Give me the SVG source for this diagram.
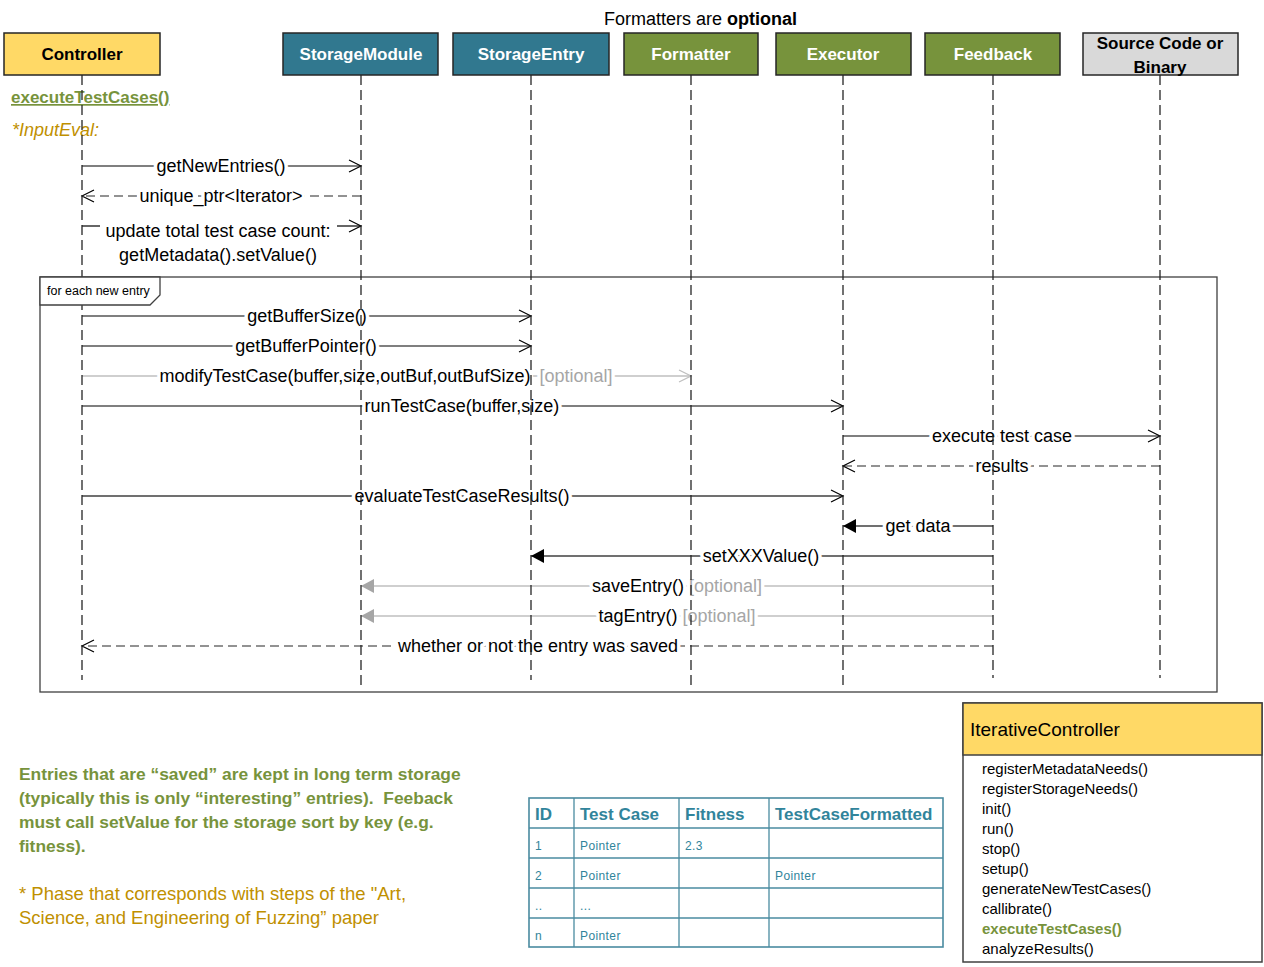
<svg xmlns="http://www.w3.org/2000/svg" width="1264" height="967" viewBox="0 0 1264 967">
<style>
text{font-family:"Liberation Sans",Arial,sans-serif;}
.hdr{stroke:#262626;stroke-width:1.5;}
.hdrtxt{font-size:17px;font-weight:bold;text-anchor:middle;}
.life{stroke:#262626;stroke-width:1.3;stroke-dasharray:10,5;fill:none;}
.msg{stroke:#000;stroke-width:1.2;fill:none;}
.msgd{stroke:#262626;stroke-width:1.2;fill:none;stroke-dasharray:9,5;}
.msgg{stroke:#BFBFBF;stroke-width:1.5;fill:none;}
.msgk{stroke:#404040;stroke-width:1.6;fill:none;}
.lbl{font-size:18px;text-anchor:middle;fill:#000;stroke:#fff;stroke-width:7;stroke-linejoin:round;paint-order:stroke;}
.opt{fill:#A6A6A6;}
.cell{font-size:12px;fill:#31849B;letter-spacing:0.4px;}
.th{font-size:17px;font-weight:bold;fill:#31849B;}
.meth{font-size:15px;}
.methhi{font-size:15px;font-weight:bold;fill:#77933C;}
</style>
<defs>
<marker id="open" viewBox="-14 -8 16 16" refX="0" refY="0" markerWidth="16" markerHeight="16" markerUnits="userSpaceOnUse" orient="auto" overflow="visible">
<path d="M-12,-6 L0,0 L-12,6" fill="none" stroke="#000" stroke-width="1.2"/>
</marker>
<marker id="opengray" viewBox="-14 -8 16 16" refX="0" refY="0" markerWidth="16" markerHeight="16" markerUnits="userSpaceOnUse" orient="auto" overflow="visible">
<path d="M-12,-6 L0,0 L-12,6" fill="none" stroke="#BFBFBF" stroke-width="1.3"/>
</marker>
<marker id="fill" viewBox="-14 -8 16 16" refX="0" refY="0" markerWidth="16" markerHeight="16" markerUnits="userSpaceOnUse" orient="auto" overflow="visible">
<path d="M-13,-7 L0,0 L-13,7 Z" fill="#000"/>
</marker>
<marker id="fillgray" viewBox="-14 -8 16 16" refX="0" refY="0" markerWidth="16" markerHeight="16" markerUnits="userSpaceOnUse" orient="auto" overflow="visible">
<path d="M-13,-7 L0,0 L-13,7 Z" fill="#A6A6A6"/>
</marker>
</defs>
<rect width="1264" height="967" fill="#fff"/>

<text x="604" y="25" font-size="18">Formatters are <tspan font-weight="bold">optional</tspan></text>

<g id="loop-frame-box">
<rect x="40" y="277" width="1177" height="415" fill="none" stroke="#404040" stroke-width="1.3"/>
</g>

<g id="phase-labels">
<text x="11" y="103" font-size="17" font-weight="bold" fill="#77933C" text-decoration="underline">executeTestCases()</text>
<text x="12" y="136" font-size="18" font-style="italic" fill="#BF9000">*InputEval:</text>
</g>

<g id="connectors">
<line class="msg" x1="82" y1="166" x2="361" y2="166" marker-end="url(#open)"/>
<text class="lbl" x="221" y="172">getNewEntries()</text>
<line class="msgd" x1="361" y1="196" x2="82" y2="196" marker-end="url(#open)"/>
<text class="lbl" x="221" y="202">unique_ptr&lt;Iterator&gt;</text>
<line class="msg" x1="82" y1="226" x2="100" y2="226"/>
<line class="msg" x1="337" y1="226" x2="361" y2="226" marker-end="url(#open)"/>
<text class="lbl" x="218" y="237">update total test case count:</text>
<text class="lbl" x="218" y="261">getMetadata().setValue()</text>

<line class="msg" x1="82" y1="316" x2="531" y2="316" marker-end="url(#open)"/>
<text class="lbl" x="307" y="322">getBufferSize()</text>
<line class="msg" x1="82" y1="346" x2="531" y2="346" marker-end="url(#open)"/>
<text class="lbl" x="306" y="352">getBufferPointer()</text>
<line class="msgg" x1="82" y1="376" x2="691" y2="376" marker-end="url(#opengray)"/>
<text class="lbl" x="386" y="382">modifyTestCase(buffer,size,outBuf,outBufSize)<tspan class="opt" dx="9">[optional]</tspan></text>
<line class="msg" x1="82" y1="406" x2="843" y2="406" marker-end="url(#open)"/>
<text class="lbl" x="462" y="412">runTestCase(buffer,size)</text>
<line class="msg" x1="843" y1="436" x2="1160" y2="436" marker-end="url(#open)"/>
<text class="lbl" x="1002" y="442">execute test case</text>
<line class="msgd" x1="1160" y1="466" x2="843" y2="466" marker-end="url(#open)"/>
<text class="lbl" x="1002" y="472">results</text>
<line class="msgk" x1="82" y1="496" x2="843" y2="496" marker-end="url(#open)"/>
<text class="lbl" x="462" y="502">evaluateTestCaseResults()</text>
<line class="msgk" x1="993" y1="526" x2="843" y2="526" marker-end="url(#fill)"/>
<text class="lbl" x="918" y="532">get data</text>
<line class="msgk" x1="993" y1="556" x2="531" y2="556" marker-end="url(#fill)"/>
<text class="lbl" x="761" y="562">setXXXValue()</text>
<line class="msgg" x1="993" y1="586" x2="361" y2="586" marker-end="url(#fillgray)"/>
<text class="lbl" x="677" y="592">saveEntry()<tspan class="opt" dx="5">[optional]</tspan></text>
<line class="msgg" x1="993" y1="616" x2="361" y2="616" marker-end="url(#fillgray)"/>
<text class="lbl" x="677" y="622">tagEntry()<tspan class="opt" dx="5">[optional]</tspan></text>
<line class="msgd" x1="993" y1="646" x2="82" y2="646" marker-end="url(#open)"/>
<text class="lbl" x="538" y="652">whether or not the entry was saved</text>
</g>

<g id="node-controller">
<rect class="hdr" x="4" y="33" width="156" height="42" fill="#FFD966"/>
<text class="hdrtxt" x="82" y="60" fill="#000">Controller</text>
<line class="life" x1="82" y1="75" x2="82" y2="680"/>
</g>
<g id="node-storagemodule">
<rect class="hdr" x="283" y="33" width="155" height="42" fill="#31788F"/>
<text class="hdrtxt" x="361" y="60" fill="#fff">StorageModule</text>
<line class="life" x1="361" y1="75" x2="361" y2="685"/>
</g>
<g id="node-storageentry">
<rect class="hdr" x="453" y="33" width="156" height="42" fill="#31788F"/>
<text class="hdrtxt" x="531" y="60" fill="#fff">StorageEntry</text>
<line class="life" x1="531" y1="75" x2="531" y2="680"/>
</g>
<g id="node-formatter">
<rect class="hdr" x="624" y="33" width="134" height="42" fill="#77933C"/>
<text class="hdrtxt" x="691" y="60" fill="#fff">Formatter</text>
<line class="life" x1="691" y1="75" x2="691" y2="685"/>
</g>
<g id="node-executor">
<rect class="hdr" x="776" y="33" width="135" height="42" fill="#77933C"/>
<text class="hdrtxt" x="843" y="60" fill="#fff">Executor</text>
<line class="life" x1="843" y1="75" x2="843" y2="685"/>
</g>
<g id="node-feedback">
<rect class="hdr" x="925" y="33" width="135" height="42" fill="#77933C"/>
<text class="hdrtxt" x="993" y="60" fill="#fff">Feedback</text>
<line class="life" x1="993" y1="75" x2="993" y2="678"/>
</g>
<g id="node-source">
<rect class="hdr" x="1083" y="33" width="155" height="42" fill="#D9D9D9"/>
<text class="hdrtxt" x="1160" y="49" fill="#000" font-size="16">Source Code or</text>
<text class="hdrtxt" x="1160" y="73" fill="#000" font-size="16">Binary</text>
<line class="life" x1="1160" y1="75" x2="1160" y2="678"/>
</g>

<g id="loop-frame-label">
<path d="M40,277 H160 V295 L150,305 H40 Z" fill="#fff" stroke="#404040" stroke-width="1.3"/>
<text x="47" y="295" font-size="12.5">for each new entry</text>
</g>

<g id="notes">
<g font-size="17.4" font-weight="bold" fill="#77933C">
<text x="19" y="780">Entries that are “saved” are kept in long term storage</text>
<text x="19" y="804" style="white-space:pre">(typically this is only “interesting” entries).  Feeback</text>
<text x="19" y="828">must call setValue for the storage sort by key (e.g.</text>
<text x="19" y="852">fitness).</text>
</g>
<g font-size="18.5" fill="#BF9000">
<text x="19" y="900">* Phase that corresponds with steps of the "Art,</text>
<text x="19" y="924">Science, and Engineering of Fuzzing” paper</text>
</g>
</g>

<g id="storage-table">
<rect x="529" y="798" width="414" height="149" fill="#fff" stroke="#4A8BA0" stroke-width="1.6"/>
<g stroke="#4A8BA0" stroke-width="1.3">
<line x1="529" y1="828" x2="943" y2="828"/>
<line x1="529" y1="858" x2="943" y2="858"/>
<line x1="529" y1="888" x2="943" y2="888"/>
<line x1="529" y1="918" x2="943" y2="918"/>
<line x1="574" y1="798" x2="574" y2="947"/>
<line x1="679" y1="798" x2="679" y2="947"/>
<line x1="769" y1="798" x2="769" y2="947"/>
</g>
<text class="th" x="535" y="820">ID</text>
<text class="th" x="580" y="820">Test Case</text>
<text class="th" x="685" y="820">Fitness</text>
<text class="th" x="775" y="820">TestCaseFormatted</text>
<text class="cell" x="535" y="850">1</text>
<text class="cell" x="580" y="850">Pointer</text>
<text class="cell" x="685" y="850">2.3</text>
<text class="cell" x="535" y="880">2</text>
<text class="cell" x="580" y="880">Pointer</text>
<text class="cell" x="775" y="880">Pointer</text>
<text class="cell" x="535" y="910">..</text>
<text class="cell" x="580" y="910">...</text>
<text class="cell" x="535" y="940">n</text>
<text class="cell" x="580" y="940">Pointer</text>
</g>

<g id="class-iterativecontroller">
<rect x="963" y="703" width="299" height="259" fill="#fff" stroke="#404040" stroke-width="1.5"/>
<rect x="963" y="703" width="299" height="52" fill="#FFD966" stroke="#404040" stroke-width="1.5"/>
<text x="970" y="736" font-size="19">IterativeController</text>
<text class="meth" x="982" y="774">registerMetadataNeeds()</text>
<text class="meth" x="982" y="794">registerStorageNeeds()</text>
<text class="meth" x="982" y="814">init()</text>
<text class="meth" x="982" y="834">run()</text>
<text class="meth" x="982" y="854">stop()</text>
<text class="meth" x="982" y="874">setup()</text>
<text class="meth" x="982" y="894">generateNewTestCases()</text>
<text class="meth" x="982" y="914">callibrate()</text>
<text class="methhi" x="982" y="934">executeTestCases()</text>
<text class="meth" x="982" y="954">analyzeResults()</text>
</g>
</svg>
